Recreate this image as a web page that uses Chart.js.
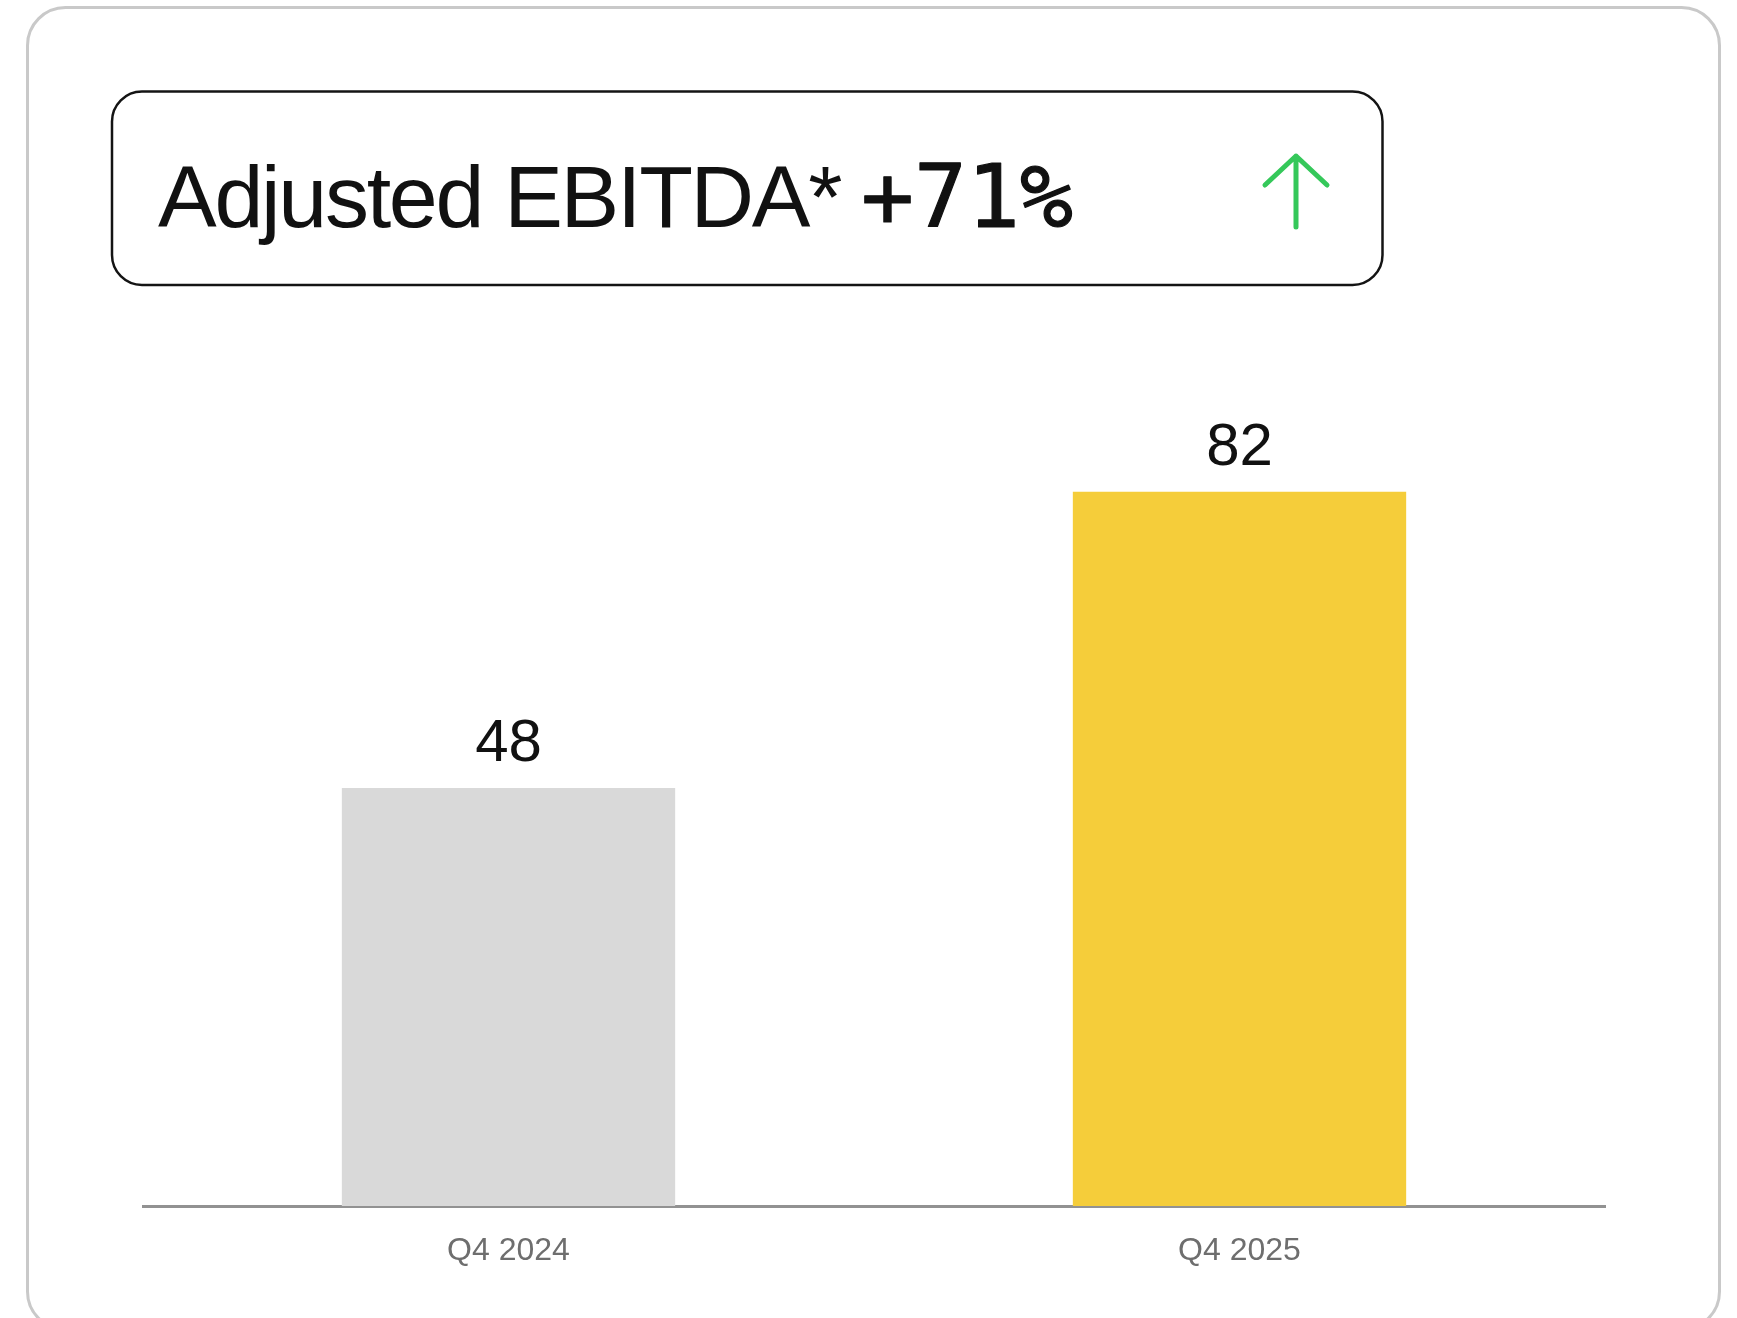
<!DOCTYPE html>
<html>
<head>
<meta charset="utf-8">
<title>Adjusted EBITDA</title>
<script src="https://cdn.jsdelivr.net/npm/chart.js@4/dist/chart.umd.min.js"></script>
<style>
  html, body { margin: 0; padding: 0; background: #ffffff; }
  #wrap { position: relative; width: 1737px; height: 1318px; overflow: hidden; }
  canvas { display: block; }
</style>
</head>
<body>
<div id="wrap"><canvas id="chart" width="1737" height="1318"></canvas></div>
<script>
// Quarterly adjusted EBITDA
const categories = ['Q4 2024', 'Q4 2025'];
const ebitdaValues = [48, 82];
const barColors = ['#d9d9d9', '#f5cd3a'];
const headline = 'Adjusted EBITDA*';
const growthLabel = '+71%';

// Card frame, headline box, headline text and the green up arrow
const cardPlugin = {
  id: 'cardFrame',
  beforeDraw(chart) {
    const ctx = chart.ctx;
    ctx.save();
    // outer card
    ctx.lineWidth = 3;
    ctx.strokeStyle = '#c9c9c9';
    ctx.beginPath();
    ctx.roundRect(27.5, 7.5, 1692, 1322, 38);
    ctx.stroke();
    // headline box
    ctx.lineWidth = 2.5;
    ctx.strokeStyle = '#141414';
    ctx.beginPath();
    ctx.roundRect(112, 91.5, 1270.5, 193.5, 30);
    ctx.stroke();
    // headline text
    ctx.fillStyle = '#111111';
    ctx.textBaseline = 'alphabetic';
    ctx.textAlign = 'left';
    ctx.font = '88px "Liberation Sans", Arial, sans-serif';
    ctx.letterSpacing = '-2.3px';
    ctx.fillText(headline, 158, 227);
    // growth figure in a medium-weight monospace
    ctx.letterSpacing = '0px';
    ctx.font = '88px "DejaVu Sans Mono", monospace';
    ctx.fillText(growthLabel, 861, 227);
    ctx.strokeStyle = '#111111';
    ctx.lineWidth = 1.2;
    ctx.lineJoin = 'round';
    ctx.strokeText(growthLabel, 861, 227);
    // up arrow
    ctx.strokeStyle = '#35c85a';
    ctx.lineWidth = 5;
    ctx.lineCap = 'round';
    ctx.lineJoin = 'round';
    ctx.beginPath();
    ctx.moveTo(1296, 227);
    ctx.lineTo(1296, 156);
    ctx.moveTo(1265, 185);
    ctx.lineTo(1296, 156);
    ctx.lineTo(1327, 185);
    ctx.stroke();
    ctx.restore();
  }
};

// Value labels above each bar
const valueLabelPlugin = {
  id: 'valueLabels',
  afterDatasetsDraw(chart) {
    const ctx = chart.ctx;
    const meta = chart.getDatasetMeta(0);
    ctx.save();
    ctx.fillStyle = '#111111';
    ctx.font = '60px "Liberation Sans", Arial, sans-serif';
    ctx.textAlign = 'center';
    ctx.textBaseline = 'alphabetic';
    meta.data.forEach((bar, i) => {
      ctx.fillText(String(ebitdaValues[i]), bar.x, bar.y - 27);
    });
    ctx.restore();
  }
};

new Chart(document.getElementById('chart'), {
  type: 'bar',
  data: {
    labels: categories,
    datasets: [{
      data: ebitdaValues,
      backgroundColor: barColors,
      borderWidth: 0,
      categoryPercentage: 1,
      barPercentage: 0.456
    }]
  },
  options: {
    responsive: false,
    animation: false,
    devicePixelRatio: 1,
    layout: { padding: { left: 143, right: 132, top: 335, bottom: 0 } },
    plugins: { legend: { display: false }, tooltip: { enabled: false }, title: { display: false } },
    scales: {
      y: {
        display: false,
        min: 0,
        max: 100
      },
      x: {
        grid: { display: false, drawTicks: false },
        border: { display: true, color: '#929292', width: 3 },
        ticks: {
          color: '#6e6e6e',
          font: { family: '"Liberation Sans", Arial, sans-serif', size: 32 },
          padding: 26,
          maxRotation: 0
        },
        afterFit(scale) { scale.height = 112; }
      }
    }
  },
  plugins: [cardPlugin, valueLabelPlugin]
});
</script>
</body>
</html>
